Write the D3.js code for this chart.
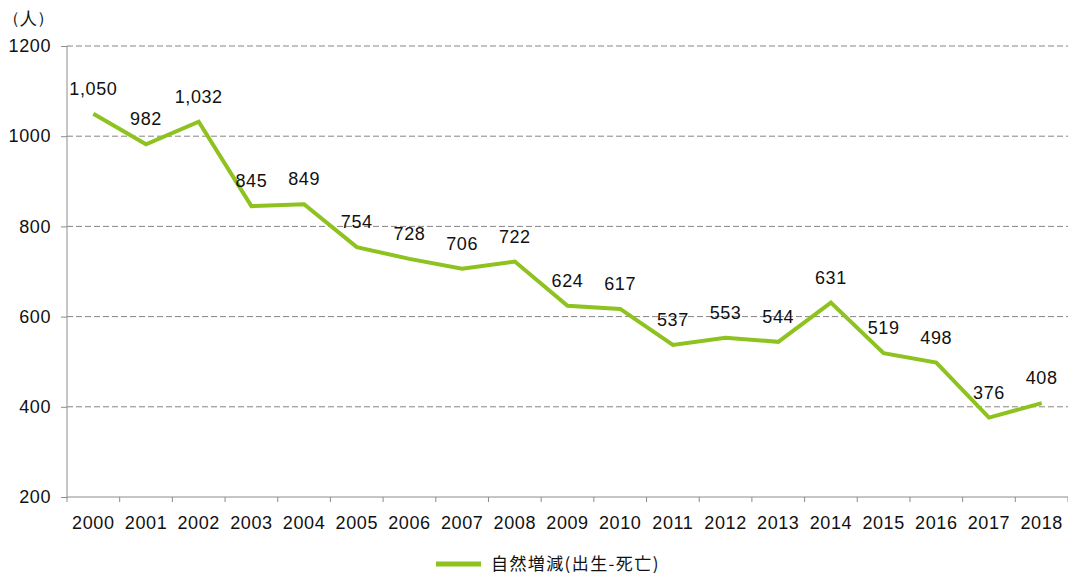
<!DOCTYPE html>
<html>
<head>
<meta charset="utf-8">
<script src="https://cdn.jsdelivr.net/npm/d3@7"></script>
<style>
    body { margin: 0; background: #fff; }
    svg text { font-family: "Liberation Sans", Arial, sans-serif; fill: #111; }
</style>
</head>
<body>
<svg id="chart" width="1068" height="574"></svg>
<script>
const years = ["2000", "2001", "2002", "2003", "2004", "2005", "2006", "2007", "2008", "2009",
    "2010", "2011", "2012", "2013", "2014", "2015", "2016", "2017", "2018"];
const values = [1050, 982, 1032, 845, 849, 754, 728, 706, 722, 624, 617, 537, 553, 544, 631, 519, 498, 376, 408];
const yTicks = [200, 400, 600, 800, 1000, 1200];
const seriesName = "自然増減(出生-死亡)";

const svg = d3.select("#chart");
const margin = {left: 67, right: 0, top: 46, bottom: 77};
const width = 1068 - margin.left - margin.right;
const height = 574 - margin.top - margin.bottom;
const g = svg.append("g").attr("transform", "translate(" + margin.left + "," + margin.top + ")");

const x = d3.scaleBand().domain(years).range([0, width]);
const y = d3.scaleLinear().domain([200, 1200]).range([height, 0]);

// gridlines
g.selectAll(".grid").data(yTicks.filter(d => d > 200)).enter().append("line")
    .attr("x1", 0).attr("x2", width)
    .attr("y1", d => y(d)).attr("y2", d => y(d))
    .attr("stroke", "#868686").attr("stroke-width", 1).attr("stroke-dasharray", "6,3");

// y axis
const yAxis = g.append("g").call(d3.axisLeft(y).tickValues(yTicks).tickSize(6).tickPadding(10).tickFormat(d3.format("d")));
yAxis.select(".domain").attr("stroke", "#8c8c8c").attr("d", "M0," + height + "V0");
yAxis.selectAll(".tick line").attr("stroke", "#8c8c8c");
yAxis.selectAll("text").style("font-size", "18px").style("letter-spacing", "0.6px");

// x axis
const xAxis = g.append("g").attr("transform", "translate(0," + height + ")")
    .call(d3.axisBottom(x).tickSize(0).tickPadding(19));
xAxis.select(".domain").attr("stroke", "#8c8c8c").attr("d", "M0,0H" + width);
xAxis.selectAll("text").style("font-size", "18px").style("letter-spacing", "0.6px");
// boundary ticks between categories
g.selectAll(".xt").data(d3.range(years.length + 1)).enter().append("line")
    .attr("x1", i => i * x.step()).attr("x2", i => i * x.step())
    .attr("y1", height).attr("y2", height + 5)
    .attr("stroke", "#8c8c8c");

// unit label
svg.append("text").attr("x", 3).attr("y", 24).style("font-size", "17px").text("（人）");

// line
const line = d3.line().x((d, i) => x(years[i]) + x.bandwidth() / 2).y(d => y(d));
g.append("path").datum(values).attr("d", line)
    .attr("fill", "none").attr("stroke", "#8dc21f").attr("stroke-width", 4).attr("stroke-linejoin", "miter");

// data labels
g.selectAll(".lbl").data(values).enter().append("text")
    .attr("x", (d, i) => x(years[i]) + x.bandwidth() / 2)
    .attr("y", d => y(d) - 19)
    .attr("text-anchor", "middle")
    .style("font-size", "18px")
    .style("letter-spacing", "0.6px")
    .text(d => d3.format(",")(d));

// legend
const lg = svg.append("g").attr("transform", "translate(436,564)");
lg.append("line").attr("x1", 0).attr("x2", 45).attr("y1", 0).attr("y2", 0)
    .attr("stroke", "#8dc21f").attr("stroke-width", 5);
lg.append("text").attr("x", 55).attr("y", 6).style("font-size", "17px")
    .style("letter-spacing", "1.4px")
    .style("font-family", "'Noto Sans CJK JP', sans-serif").text(seriesName);
</script>
</body>
</html>
